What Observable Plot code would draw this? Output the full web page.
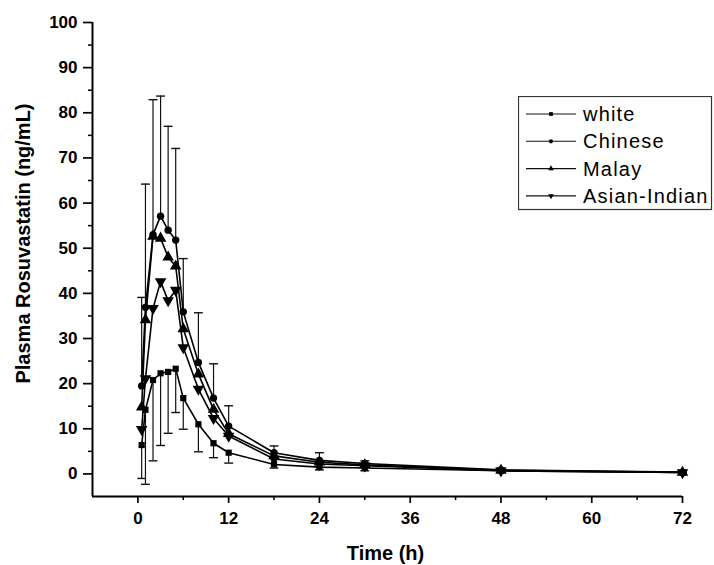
<!DOCTYPE html>
<html>
<head>
<meta charset="utf-8">
<script src="https://cdn.jsdelivr.net/npm/d3@7"></script>
<script src="https://cdn.jsdelivr.net/npm/@observablehq/plot@0.6"></script>
<style>
  html, body { margin: 0; padding: 0; background: #fff; }
  #wrap { position: relative; width: 714px; height: 565px; }
  #legend { position: absolute; left: 518px; top: 96px; }
</style>
</head>
<body>
<div id="wrap"></div>
<script>
// ---- data ----
const times = [0.5, 1, 2, 3, 4, 5, 6, 8, 10, 12, 18, 24, 30, 48, 72];
const seriesNames = ["white", "Chinese", "Malay", "Asian-Indian"];
const white       = [6.4, 14.2, 20.8, 22.3, 22.6, 23.3, 16.8, 11.0, 6.8, 4.7, 2.1, 1.5, 1.3, 0.7, 0.3];
const chinese     = [19.5, 36.9, 53.0, 57.1, 54.0, 51.8, 35.9, 24.7, 16.8, 10.6, 4.7, 3.0, 2.3, 0.9, 0.4];
const malay       = [14.8, 34.1, 52.6, 52.2, 48.0, 46.0, 32.1, 22.1, 14.3, 8.9, 4.0, 2.6, 2.0, 0.8, 0.35];
const asianIndian = [9.9, 21.1, 36.7, 42.6, 38.4, 40.7, 28.0, 18.8, 12.3, 8.4, 3.3, 2.2, 1.8, 0.7, 0.3];
// error bar ends: upper (Chinese) and lower (white)
const chineseUpper = [39.1, 64.2, 82.9, 83.7, 77.0, 72.1, 47.7, 35.7, 24.4, 15.1, 6.2, 4.7, 2.9, 1.3, 0.6];
const whiteLower   = [-1.0, -2.3, 2.9, 6.3, 9.0, 13.6, 9.9, 4.9, 3.6, 2.4, 1.3, 0.9, 0.7, 0.4, 0.2];
const xTicks = [0, 12, 24, 36, 48, 60, 72];
const xMinorTicks = [6, 18, 30, 42, 54, 66];
const yTicks = [0, 10, 20, 30, 40, 50, 60, 70, 80, 90, 100];
const yMinorTicks = [5, 15, 25, 35, 45, 55, 65, 75, 85, 95];
const xTitle = "Time (h)";
const yTitle = "Plasma Rosuvastatin (ng/mL)";

// ---- build tables ----
const seriesValues = [white, chinese, malay, asianIndian];
const series = seriesNames.map((name, i) =>
  times.map((t, j) => ({series: name, time: t, value: seriesValues[i][j]})));
const errUp = times.map((t, j) => ({time: t, from: chinese[j], to: chineseUpper[j]}));
const errDown = times.map((t, j) => ({time: t, from: white[j], to: whiteLower[j]}));

const downTriangle = {
  draw(ctx, size) {
    const a = Math.sqrt(4 * size / Math.sqrt(3));
    const h = a * Math.sqrt(3) / 2;
    ctx.moveTo(0, 2 * h / 3);
    ctx.lineTo(-a / 2, -h / 3);
    ctx.lineTo(a / 2, -h / 3);
    ctx.closePath();
  }
};
const capSymbol = {
  draw(ctx, size) {
    const w = Math.sqrt(size);
    ctx.moveTo(-w, 0);
    ctx.lineTo(w, 0);
  }
};
const symbols = ["square", "circle", "triangle", downTriangle];
const radii = [3.5, 3.7, 4.3, 4.3];

const marks = [];
// error bars
marks.push(Plot.ruleX(errUp, {x: "time", y1: "from", y2: "to", stroke: "#111", strokeWidth: 1.2}));
marks.push(Plot.ruleX(errDown, {x: "time", y1: "from", y2: "to", stroke: "#111", strokeWidth: 1.2}));
marks.push(Plot.dot(errUp, {x: "time", y: "to", symbol: capSymbol, r: 2.5, stroke: "#111", strokeWidth: 1.4, fill: "none"}));
marks.push(Plot.dot(errDown, {x: "time", y: "to", symbol: capSymbol, r: 2.5, stroke: "#111", strokeWidth: 1.4, fill: "none"}));
// lines + markers
series.forEach((s, i) => {
  marks.push(Plot.line(s, {x: "time", y: "value", stroke: "#000", strokeWidth: 1.6}));
  marks.push(Plot.dot(s, {x: "time", y: "value", symbol: symbols[i], r: radii[i], fill: "#000", stroke: "none"}));
});
// axes
marks.push(Plot.ruleX([-6], {y1: -5, y2: 100, stroke: "#000", strokeWidth: 2}));
marks.push(Plot.ruleY([-5], {x1: -6, x2: 72, stroke: "#000", strokeWidth: 2}));
marks.push(Plot.axisX(xTicks, {anchor: "bottom", tickSize: 7, tickPadding: 8, strokeWidth: 1.7, label: null, fontSize: 17, fontWeight: "bold"}));
marks.push(Plot.axisX(xMinorTicks, {anchor: "bottom", tickSize: 4, text: null, strokeWidth: 1.5, label: null}));
marks.push(Plot.axisY(yTicks, {anchor: "left", tickSize: 9, tickPadding: 6, strokeWidth: 1.7, label: null, fontSize: 17, fontWeight: "bold"}));
marks.push(Plot.axisY(yMinorTicks, {anchor: "left", tickSize: 4, text: null, strokeWidth: 1.5, label: null}));
// titles
marks.push(Plot.text([xTitle], {frameAnchor: "bottom", textAnchor: "middle", lineAnchor: "middle", dy: 57, dx: -2, fontSize: 20, fontWeight: "bold"}));
marks.push(Plot.text([yTitle], {frameAnchor: "left", textAnchor: "middle", lineAnchor: "middle", rotate: -90, dx: -69, dy: -16, fontSize: 20, fontWeight: "bold"}));

const chart = Plot.plot({
  width: 714,
  height: 565,
  marginTop: 22,
  marginLeft: 92,
  marginRight: 32,
  marginBottom: 69,
  x: {domain: [-6, 72]},
  y: {domain: [-5, 100]},
  style: {fontFamily: "'Liberation Sans', Arial, Helvetica, sans-serif", fontSize: "17px", background: "#fff", color: "#000"},
  marks
});
document.getElementById("wrap").appendChild(chart);

// ---- legend (HTML overlay) ----
const legW = 193, legH = 113, rowGap = 27.3, firstRow = 18;
const leg = d3.select("#wrap").append("svg")
  .attr("id", "legend").attr("width", legW + 2).attr("height", legH + 2);
leg.append("rect").attr("x", 0.5).attr("y", 0.5).attr("width", legW).attr("height", legH)
  .attr("fill", "#fff").attr("stroke", "#333").attr("stroke-width", 1.2);
const legSymbols = [d3.symbolSquare, d3.symbolCircle, d3.symbolTriangle, downTriangle];
seriesNames.forEach((name, i) => {
  const cy = firstRow + i * rowGap;
  const g = leg.append("g").attr("transform", `translate(0,${cy})`);
  g.append("line").attr("x1", 8).attr("x2", 58).attr("y1", 0).attr("y2", 0)
    .attr("stroke", "#111").attr("stroke-width", 1.1);
  g.append("path").attr("transform", "translate(33,0)")
    .attr("d", d3.symbol(legSymbols[i], 14)()).attr("fill", "#000");
  g.append("text").attr("x", 65).attr("y", 7)
    .attr("font-family", "'Liberation Sans', Arial, Helvetica, sans-serif")
    .attr("font-size", 20).attr("letter-spacing", "1.2px").attr("fill", "#000")
    .text(name);
});
</script>
</body>
</html>
